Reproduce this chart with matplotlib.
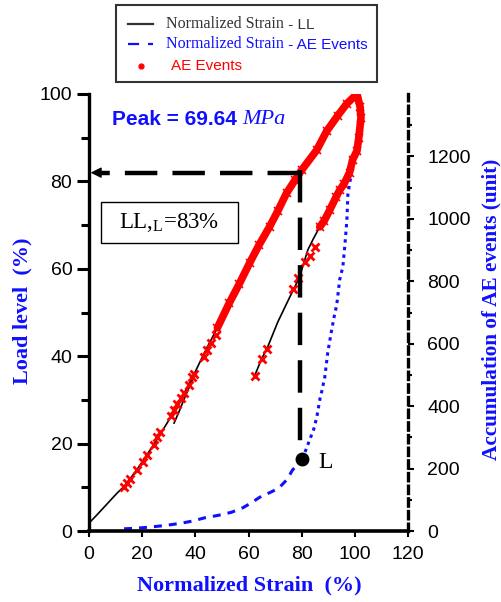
import numpy as np
import matplotlib
matplotlib.use("Agg")
import matplotlib.pyplot as plt
from matplotlib.lines import Line2D
from matplotlib.patches import Rectangle

# ---------------- data ----------------
# Load level (%) vs normalized strain (%) - loop curve (NaN separates the short extra segment)
ll_strain = [0, 3, 6.5, 10.6, 13.2, 18, 24.5, 31, 36, 39.6, 44.5, 48.3, 52.8, 56.5, 60.4,
             64, 67.9, 71, 74.3, 77.5, 80, 85.7, 89.4, 93.5, 97, 100.8,
             102, 102.3, 101.5, 100.8, 99.2, 98, 96, 94.3, 93, 90.6, 88.5, 86.8, 84.5,
             82.3, 79.2, 75.5, 71, 67.2, 64.8, 62.3,
             np.nan, 32, 34, 36, 38, 39.6]
ll_load = [1.8, 3.7, 6, 8.7, 10.2, 14, 19.9, 26.3, 31.8, 36, 42.1, 46.5, 52.2, 56.5, 61.3,
           65.5, 69.6, 73.2, 77.3, 80.3, 82.6, 87.2, 91.5, 95, 97.8, 100,
           97, 94.5, 90, 87, 85, 82, 79.5, 78, 76.5, 73.5, 71, 69.6, 67,
           64.3, 58.1, 53.5, 47.8, 42.1, 39.2, 35.5,
           np.nan, 24.7, 27.5, 30.5, 33.3, 35.5]

# AE events: dense band of events along the curve
ae_band_strain = [48.3, 52.8, 56.5, 60.4, 64, 67.9, 71, 74.3, 77.5, 80, 85.7, 89.4, 93.5, 97,
                  100.8, 102, 102.3, 101.5, 100.8, 99.2, 98, 96, 94.3, 93, 90.6, 88.5, 86.8]
ae_band_load = [46.5, 52.2, 56.5, 61.3, 65.5, 69.6, 73.2, 77.3, 80.3, 82.6, 87.2, 91.5, 95, 97.8,
                100, 97, 94.5, 90, 87, 85, 82, 79.5, 78, 76.5, 73.5, 71, 69.6]
# AE events: isolated events
ae_pts_strain = [13.2, 14.3, 15.5, 18, 20.4, 21.9, 24.5, 25.7, 26.8, 31, 32, 33.2, 34.7, 35.8,
                 37.7, 38.9, 39.5, 43.4, 44.5, 46, 47.9,
                 84.9, 83, 81.1, 78.5, 76.6, 66.8, 64.9, 62.3]
ae_pts_load = [10, 11, 11.8, 14, 15.8, 17.4, 19.7, 21.5, 22.7, 26.3, 27.7, 29, 30.4, 31.6,
               33.4, 35.2, 36, 39.8, 41.4, 43, 44.9,
               65, 63, 61.6, 58, 55.3, 41.6, 39.4, 35.5]

# Accumulated AE events (unit) vs normalized strain (%)
acc_strain = [13.2, 18, 23.4, 29, 34.7, 39, 43.4, 48.5, 53.6, 58, 61, 64.2, 66, 69, 71.7,
              74.5, 76.6, 78.5, 80, 81.5, 83, 84.5, 85.7, 86.8, 87.5, 88.7, 89.8, 91.3,
              92.3, 93.2, 94.3, 95.5, 96.3, 97, 97.4, 98.2, 98.9, 99.5]
acc_count = [7, 9, 13, 18, 25, 32, 42, 50, 60, 75, 90, 108, 115, 127, 140,
             165, 196, 212, 231, 258, 292, 325, 365, 420, 445, 493, 571, 645,
             690, 725, 805, 847, 920, 995, 1080, 1120, 1158, 1200]

L_strain, L_count = 80, 231      # point "L"
LL_level = 82                    # load level at L (guide line)
guide_x = 79.5

xticks = [0, 20, 40, 60, 80, 100, 120]
yticks = [0, 20, 40, 60, 80, 100]
y2ticks = [0, 200, 400, 600, 800, 1000, 1200]

SANS = "Liberation Sans"
SERIF = "Liberation Serif"
BLUE = "#1010ff"

plt.rcParams["font.family"] = SANS
plt.rcParams["mathtext.fontset"] = "custom"
plt.rcParams["mathtext.rm"] = SERIF
plt.rcParams["mathtext.it"] = SERIF + ":italic"

W, H = 501, 602
fig = plt.figure(figsize=(W / 100, H / 100), dpi=100)
fx = lambda px: px / W
fy = lambda py: 1 - py / H

ax = fig.add_axes([fx(89), fy(531), (408 - 89) / W, (531 - 94) / H])
ax.set_xlim(0, 120)
ax.set_ylim(0, 100)
ax2 = ax.twinx()
ax2.set_ylim(0, 1400)

# spines
for s in ["top", "right"]:
    ax.spines[s].set_visible(False)
ax.spines["left"].set_linewidth(2.4)
ax.spines["bottom"].set_linewidth(2.6)
for s in ["top", "left", "bottom"]:
    ax2.spines[s].set_visible(False)
ax2.spines["right"].set_linewidth(2.4)
ax2.spines["right"].set_linestyle((0, (2.2, 1.6)))

# ticks
ax.set_xticks(xticks)
ax.set_yticks(yticks)
ax.set_yticks([10, 30, 50, 70, 90], minor=True)
ax.tick_params(axis="x", direction="out", length=4, width=1.5, pad=7, labelsize=14)
ax.tick_params(axis="y", which="major", direction="out", length=9, width=2.2, pad=3, labelsize=14)
ax.tick_params(axis="y", which="minor", direction="out", length=6, width=2.2)
ax2.set_yticks(y2ticks)
ax2.set_yticks(list(range(100, 1400, 200)), minor=True)
ax2.tick_params(axis="y", which="major", direction="out", length=4, width=1.5, pad=10, labelsize=14)
ax2.tick_params(axis="y", which="minor", direction="out", length=3, width=1.5)

# accumulated AE curve (right axis): dashed in the low part, dotted after L
split = acc_strain.index(L_strain) + 1
ax2.plot(acc_strain[:split], acc_count[:split], color=BLUE, lw=2.2,
         linestyle=(0, (2.6, 2.3)), zorder=2)
ax2.plot(acc_strain[split - 1:], acc_count[split - 1:], color=BLUE, lw=2.2,
         linestyle=(0, (1.1, 1.4)), zorder=2)
ax.set_zorder(ax2.get_zorder() + 1)
ax.patch.set_visible(False)

# LL curve
ax.plot(ll_strain, ll_load, color="black", lw=1.2, zorder=3)
# AE events
ax.plot(ae_band_strain, ae_band_load, color="red", lw=5.5, solid_joinstyle="round",
        solid_capstyle="round", zorder=4)
ax.plot(ae_band_strain, ae_band_load, color="red", lw=0, marker="x", ms=5.5, mew=1.2, zorder=4)
ax.plot(ae_pts_strain, ae_pts_load, color="red", lw=0, marker="x", ms=5.5, mew=2, zorder=4)

# guide lines
dash = (0, (7.3, 3.4))
ax.plot([guide_x, 3.2], [LL_level, LL_level], color="black", lw=3.2, linestyle=dash,
        solid_capstyle="butt", dash_capstyle="butt", zorder=5)
ax.plot([guide_x, guide_x], [LL_level + 0.5, 20], color="black", lw=3.2, linestyle=dash,
        dash_capstyle="butt", zorder=5)
ax.annotate("", xy=(0.6, LL_level), xytext=(4.0, LL_level),
            arrowprops=dict(arrowstyle="-|>", color="black", lw=1, mutation_scale=16,
                            shrinkA=0, shrinkB=0), zorder=6)

# point L
ax2.plot([L_strain], [L_count], "o", color="black", ms=9, zorder=6)
ax.text(86.2, 15.6, "L", fontfamily=SERIF, fontsize=17, va="center", ha="left", zorder=6)

# LL box
ax.add_patch(Rectangle((fx(101), fy(243)), (238 - 101) / W, (243 - 202) / H,
                       transform=fig.transFigure, fill=False, ec="black", lw=1.0, zorder=6))
fig.text(fx(169.5), fy(222), r"LL,$_{\mathregular{L}}$=83%", fontfamily=SERIF, fontsize=16.5,
         ha="center", va="center")

# Peak text
t1 = fig.text(fx(112), fy(125), "Peak = 69.64 ", fontfamily=SANS, fontweight="bold",
              fontsize=15, color=BLUE, va="baseline", ha="left", stretch="condensed")
ax.annotate("MPa", xy=(1, 0), xycoords=t1, va="bottom", ha="left", fontfamily=SERIF,
            fontstyle="italic", fontsize=16, color=BLUE)

# axis labels
fig.text(fx(249.5), fy(585), "Normalized Strain  (%)", fontfamily=SERIF, fontweight="bold",
         fontsize=16, color=BLUE, ha="center", va="center")
fig.text(fx(22), fy(311), "Load level  (%)", fontfamily=SERIF, fontweight="bold",
         fontsize=16, color=BLUE, ha="center", va="center", rotation=90)
fig.text(fx(491), fy(309), "Accumulation of AE events (unit)", fontfamily=SERIF,
         fontweight="bold", fontsize=15.3, color=BLUE, ha="center", va="center", rotation=90)

# manual legend
fig.add_artist(Rectangle((fx(116), fy(82)), (377 - 116) / W, (82 - 5) / H,
                         transform=fig.transFigure, fill=False, ec="#333333", lw=1.5))
fig.add_artist(Line2D([fx(128), fx(153)], [fy(24), fy(24)], transform=fig.transFigure,
                      color="#333333", lw=1.6))
fig.add_artist(Line2D([fx(128), fx(153)], [fy(44), fy(44)], transform=fig.transFigure,
                      color=BLUE, lw=1.6, linestyle=(0, (5, 4))))
fig.add_artist(Line2D([fx(141)], [fy(66)], transform=fig.transFigure, color="red",
                      marker="o", ms=3.5, lw=0))
leg_rows = [(24, "#333333", "Normalized Strain", " - LL"),
            (44, BLUE, "Normalized Strain", " - AE Events")]
for yy, col, a, b in leg_rows:
    ta = fig.text(fx(166), fy(yy), a, fontfamily=SERIF, fontsize=11.5, color=col,
                  va="center", ha="left")
    ax.annotate(b, xy=(1, 0), xycoords=ta, va="bottom", ha="left", fontfamily=SANS,
                fontsize=11, color=col)
fig.text(fx(171), fy(66), "AE Events", fontfamily=SANS, fontsize=11, color="red",
         va="center", ha="left")

fig.savefig("out.png", dpi=100)
